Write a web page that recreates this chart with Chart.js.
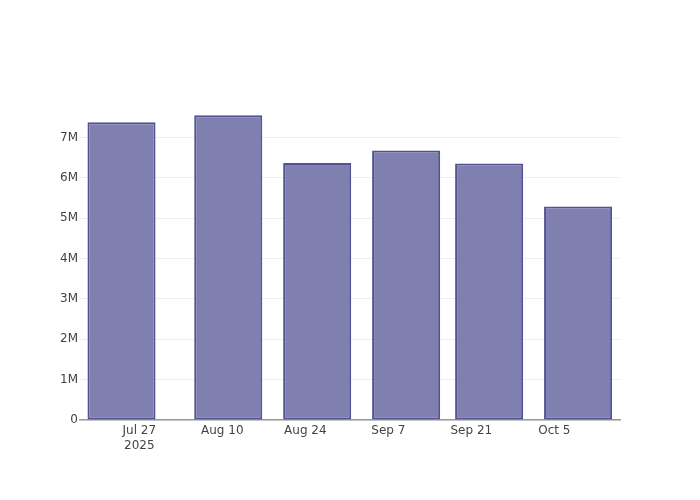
<!DOCTYPE html>
<html>
<head>
<meta charset="utf-8">
<script src="https://cdn.jsdelivr.net/npm/chart.js@4"></script>
<style>
  html, body { margin: 0; padding: 0; background: #fff; }
  #wrap { width: 700px; height: 500px; }
</style>
</head>
<body>
<div id="wrap"><canvas id="barChart" width="700" height="500"></canvas></div>
<script>
// bar dates and values
const barDates = ["2025-07-24", "2025-08-11", "2025-08-26", "2025-09-10", "2025-09-24", "2025-10-09"];
const barValues = [7380000, 7555000, 6370000, 6680000, 6360000, 5290000];

// x tick dates and labels
const tickDates = ["2025-07-27", "2025-08-10", "2025-08-24", "2025-09-07", "2025-09-21", "2025-10-05"];
const tickLabels = [["Jul 27", "2025"], "Aug 10", "Aug 24", "Sep 7", "Sep 21", "Oct 5"];

// y ticks
const yTickValues = [0, 1000000, 2000000, 3000000, 4000000, 5000000, 6000000, 7000000];
const yTickLabels = ["0", "1M", "2M", "3M", "4M", "5M", "6M", "7M"];

function toDay(s) {
    return Date.parse(s + "T00:00:00Z") / 86400000;
}

const tickDays = tickDates.map(toDay);
const xMin = tickDays[0] - 10;
const xMax = tickDays[0] + 81.07;
const yMax = Math.max(...barValues) * 1.05;

function drawChart() {
    const canvas = document.getElementById("barChart");
    if (!canvas) return;
    const ctx = canvas.getContext("2d");
    Chart.defaults.font.family = "'DejaVu Sans', Verdana, sans-serif";
    Chart.defaults.font.size = 12;
    Chart.defaults.color = "#444";
    new Chart(ctx, {
        type: "bar",
        data: {
            datasets: [{
                label: "Value",
                data: barDates.map((d, i) => ({ x: toDay(d), y: barValues[i] })),
                backgroundColor: "rgb(127,127,176)",
                borderColor: "rgb(82,82,148)",
                borderWidth: 2,
                borderSkipped: false,
                barPercentage: 0.82,
                categoryPercentage: 1
            }]
        },
        options: {
            responsive: false,
            animation: false,
            layout: {
                padding: { top: 100, right: 80, left: 0, bottom: 0 }
            },
            plugins: {
                legend: { display: false },
                tooltip: { enabled: false }
            },
            scales: {
                x: {
                    type: "linear",
                    min: xMin,
                    max: xMax,
                    offset: false,
                    z: 1,
                    grid: { display: false, drawTicks: false },
                    border: { display: true, color: "#9a9a9a", width: 1.5 },
                    afterBuildTicks: (axis) => {
                        axis.ticks = tickDays.map(v => ({ value: v }));
                    },
                    afterFit: (axis) => { axis.height = 80; },
                    ticks: {
                        padding: 3,
                        maxRotation: 0,
                        autoSkip: false,
                        font: { lineHeight: 1.25 },
                        callback: (v, i) => tickLabels[i]
                    }
                },
                y: {
                    min: 0,
                    max: yMax,
                    grid: { color: "#eeeeee", drawTicks: false },
                    border: { display: false },
                    afterBuildTicks: (axis) => {
                        axis.ticks = yTickValues.map(v => ({ value: v }));
                    },
                    afterFit: (axis) => { axis.width = 80; },
                    ticks: {
                        padding: 2,
                        callback: (v, i) => yTickLabels[i]
                    }
                }
            }
        }
    });
}

document.addEventListener("DOMContentLoaded", drawChart);
</script>
</body>
</html>
